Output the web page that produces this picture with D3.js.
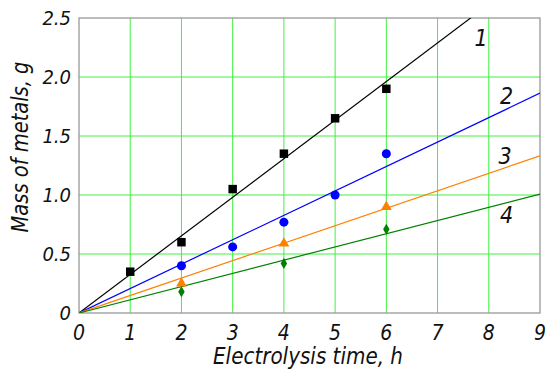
<!DOCTYPE html>
<html><head><meta charset="utf-8">
<script src="https://cdn.jsdelivr.net/npm/d3@7"></script>
<style>
body{margin:0;background:#fff;}
text{font-family:"Liberation Sans Narrow","DejaVu Sans Condensed",sans-serif;font-style:italic;fill:#111;}
</style></head>
<body><svg id="c" width="550" height="372"></svg>
<script>
const xTicks = [0,1,2,3,4,5,6,7,8,9];
const yTicks = [0,0.5,1.0,1.5,2.0,2.5];
const yTickLabels = ["0","0.5","1.0","1.5","2.0","2.5"];
const seriesNames = ["1","2","3","4"];
const seriesColors = ["#000000","#0000ff","#ff8000","#008000"];
const seriesSymbols = ["square","circle","triangle","diamond"];
const fitSlopes = [0.327, 0.207, 0.148, 0.112];
const s1x = [1,2,3,4,5,6], s1y = [0.35,0.60,1.05,1.35,1.65,1.90];
const s2x = [2,3,4,5,6],   s2y = [0.40,0.56,0.77,1.00,1.35];
const s3x = [2,4,6],       s3y = [0.25,0.59,0.90];
const s4x = [2,4,6],       s4y = [0.18,0.42,0.71];
const seriesX = [s1x,s2x,s3x,s4x], seriesY = [s1y,s2y,s3y,s4y];

const svg = d3.select("#c");
const m = {l:79, r:540, t:18, b:313};
const x = d3.scaleLinear().domain([0,9]).range([m.l,m.r]);
const y = d3.scaleLinear().domain([0,2.5]).range([m.b,m.t]);

// grid
svg.append("g").selectAll("line.gx").data(xTicks.slice(1,-1)).join("line")
  .attr("x1",d=>x(d)).attr("x2",d=>x(d)).attr("y1",m.t).attr("y2",m.b)
  .attr("stroke","#40f040").attr("stroke-width",1);
svg.append("g").selectAll("line.gy").data(yTicks.slice(1,-1)).join("line")
  .attr("y1",d=>y(d)).attr("y2",d=>y(d)).attr("x1",m.l).attr("x2",m.r)
  .attr("stroke","#40f040").attr("stroke-width",1);

// frame
svg.append("rect").attr("x",m.l).attr("y",m.t).attr("width",m.r-m.l).attr("height",m.b-m.t)
  .attr("fill","none").attr("stroke","#999").attr("stroke-width",1.3);

// clip
svg.append("clipPath").attr("id","clip").append("rect")
  .attr("x",m.l).attr("y",m.t).attr("width",m.r-m.l).attr("height",m.b-m.t);

// fitted lines
const lg = svg.append("g").attr("clip-path","url(#clip)");
fitSlopes.forEach((k,i)=>{
  lg.append("line").attr("x1",x(0)).attr("y1",y(0)).attr("x2",x(9)).attr("y2",y(9*k))
    .attr("stroke",seriesColors[i]).attr("stroke-width",1.2);
});

// markers
const symMap = {square:d3.symbolSquare, circle:d3.symbolCircle, triangle:d3.symbolTriangle, diamond:d3.symbolDiamond};
const symSize = {square:72, circle:64, triangle:50, diamond:36};
seriesX.forEach((xs,i)=>{
  const sym = d3.symbol().type(symMap[seriesSymbols[i]]).size(symSize[seriesSymbols[i]]);
  svg.append("g").selectAll("path").data(xs.map((v,j)=>[v,seriesY[i][j]])).join("path")
    .attr("d",sym).attr("transform",d=>`translate(${x(d[0])},${y(d[1])})`)
    .attr("fill",seriesColors[i]);
});

// tick labels
svg.append("g").selectAll("text").data(xTicks).join("text")
  .attr("x",d=>x(d)).attr("y",340).attr("text-anchor","middle")
  .attr("font-size",21).text(d=>d);
svg.append("g").selectAll("text").data(yTicks).join("text")
  .attr("x",71).attr("y",d=>y(d)+7).attr("text-anchor","end")
  .attr("font-size",20).text((d,i)=>yTickLabels[i]);

// series labels
const labelPos = [[7.85,2.33],[8.35,1.84],[8.32,1.33],[8.35,0.83]];
seriesNames.forEach((n,i)=>{
  svg.append("text").attr("x",x(labelPos[i][0])).attr("y",y(labelPos[i][1])+8)
    .attr("text-anchor","middle").attr("font-size",23).text(n);
});

// axis titles
svg.append("text").attr("x",308).attr("y",364).attr("text-anchor","middle")
  .attr("font-size",23).attr("textLength",190).attr("lengthAdjust","spacingAndGlyphs").text("Electrolysis time, h");
svg.append("text").attr("transform","translate(28,147) rotate(-90)").attr("text-anchor","middle")
  .attr("font-size",23).attr("textLength",171).attr("lengthAdjust","spacingAndGlyphs").text("Mass of metals, g");
</script></body></html>
